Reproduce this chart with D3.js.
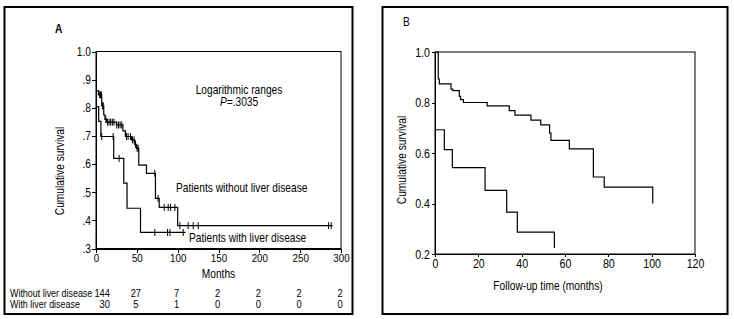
<!DOCTYPE html>
<html>
<head>
<meta charset="utf-8">
<script src="https://cdn.jsdelivr.net/npm/d3@7"></script>
<style>
  body { margin: 0; background: #fff; }
  svg text { font-family: "Liberation Sans", Arial, sans-serif; fill: #000; }
  .axis path, .axis line { stroke: #000; shape-rendering: crispEdges; }
  .curve { fill: none; stroke: #000; stroke-width: 1.2; }
  .censor { stroke: #000; stroke-width: 1; }
</style>
</head>
<body>
<div id="chart"></div>
<script>
// ---- panel A : months vs cumulative survival ----
const aMonthTicks = [0, 50, 100, 150, 200, 250, 300];
const aSurvTicks = [0.3, 0.4, 0.5, 0.6, 0.7, 0.8, 0.9, 1.0];
const aSurvLabels = [".3", ".4", ".5", ".6", ".7", ".8", ".9", "1.0"];

// patients without liver disease (step start times, survival after step)
const aWithoutTime = [0, 3, 7, 9.5, 11, 13, 25, 33, 36, 43.4, 47.5, 49.6, 52.4, 61.8, 72.8, 77.4, 100, 289.7];
const aWithoutSurv = [0.861, 0.846, 0.807, 0.775, 0.759, 0.749, 0.739, 0.718, 0.698, 0.686, 0.67, 0.656, 0.596, 0.567, 0.478, 0.446, 0.381, 0.381];
const aWithoutCensor = [4.5, 5.5, 6.6, 8.2, 8.8, 12, 14, 16, 18, 20, 22, 25.5, 27.5, 29.5, 31.5, 37.3, 39.3, 42.2,
                        44.7, 46.7, 48.3, 50.3, 51.6, 72, 76, 83.5, 88.4, 91.3, 96.6, 102.7, 112.9, 119, 125.2, 284.8, 288];

// patients with liver disease
const aWithTime = [0, 3.3, 6, 21.7, 34, 38, 54.5, 109.7];
const aWithSurv = [0.804, 0.752, 0.698, 0.62, 0.532, 0.443, 0.357, 0.357];
const aWithCensor = [7, 21, 28.3, 72, 87.6, 90.5, 106.8];

// numbers at risk
const riskRows = ["Without liver disease", "With liver disease"];
const riskWithout = [144, 27, 7, 2, 2, 2, 2];
const riskWith = [30, 5, 1, 0, 0, 0, 0];

// ---- panel B : follow-up time vs cumulative survival ----
const bMonthTicks = [0, 20, 40, 60, 80, 100, 120];
const bSurvTicks = [0.2, 0.4, 0.6, 0.8, 1.0];

const bUpperTime = [0, 1.5, 2, 7.4, 8.2, 11.2, 11.8, 13.1, 24.1, 34.3, 36.9, 44.3, 48.8, 52.9, 53.5, 62, 73.1, 78.1, 100.5];
const bUpperSurv = [1.0, 0.893, 0.874, 0.853, 0.847, 0.824, 0.811, 0.80, 0.787, 0.768, 0.75, 0.73, 0.711, 0.679, 0.65, 0.616, 0.505, 0.465, 0.40];

const bLowerTime = [0, 4.3, 8.0, 23.1, 33.1, 38.0, 55.1];
const bLowerSurv = [0.692, 0.613, 0.542, 0.452, 0.366, 0.287, 0.224];

const W = 734, H = 319;
const NARROW = 0.85;   // squeeze glyphs to mimic a narrow face

const svg = d3.select("#chart").append("svg")
    .attr("width", W)
    .attr("height", H);

// outer frames
svg.append("rect").attr("x", 4.5).attr("y", 7).attr("width", 348).attr("height", 307)
    .attr("fill", "none").attr("stroke", "#000").attr("stroke-width", 2);
svg.append("rect").attr("x", 382.5).attr("y", 7).attr("width", 345).attr("height", 307)
    .attr("fill", "none").attr("stroke", "#000").attr("stroke-width", 2);

function label(g, str, x, y, size, anchor = "start", rotate = 0) {
    return g.append("text")
        .attr("transform", `translate(${x}, ${y}) rotate(${rotate}) scale(${NARROW}, 1)`)
        .attr("text-anchor", anchor)
        .style("font-size", size + "px")
        .text(str);
}

function stepValue(times, surv, t) {
    let v = surv[0];
    for (let i = 0; i < times.length; i++) {
        if (times[i] <= t) v = surv[i];
    }
    return v;
}

function drawCurve(g, x, y, times, surv) {
    let line = d3.line()
        .x(d => x(d[0]))
        .y(d => y(d[1]))
        .curve(d3.curveStepAfter);
    g.append("path")
        .attr("class", "curve")
        .attr("d", line(d3.zip(times, surv)));
}

function drawCensors(g, x, y, times, surv, marks) {
    g.selectAll(null)
        .data(marks)
        .enter()
        .append("line")
        .attr("class", "censor")
        .attr("x1", d => x(d)).attr("x2", d => x(d))
        .attr("y1", d => y(stepValue(times, surv, d)) - 3.5)
        .attr("y2", d => y(stepValue(times, surv, d)) + 3.5);
}

function squeezeTicks(axisG, size) {
    axisG.selectAll("text")
        .style("font-size", size + "px")
        .attr("transform", `scale(${NARROW}, 1)`);
}

// ================= panel A =================
let ax = d3.scaleLinear().domain([0, 300]).range([96, 341]);
let ay = d3.scaleLinear().domain([0.3, 1.0]).range([248.5, 51.5]);
let gA = svg.append("g");

label(gA, "A", 55, 33, 12).style("font-weight", "bold");

gA.append("rect")
    .attr("x", ax(0)).attr("y", ay(1))
    .attr("width", ax(300) - ax(0)).attr("height", ay(0.3) - ay(1))
    .attr("fill", "none").attr("stroke", "#000");

let axA = gA.append("g").attr("class", "axis")
    .attr("transform", `translate(0, ${ay(0.3)})`)
    .call(d3.axisBottom(ax).tickValues(aMonthTicks).tickSize(4).tickSizeOuter(0).tickPadding(1));
squeezeTicks(axA, 11.5);

let ayA = gA.append("g").attr("class", "axis")
    .attr("transform", `translate(${ax(0)}, 0)`)
    .call(d3.axisLeft(ay).tickValues(aSurvTicks).tickSize(4).tickSizeOuter(0).tickPadding(2)
        .tickFormat((d, i) => aSurvLabels[i]));
squeezeTicks(ayA, 12);

label(gA, "Months", (ax(0) + ax(300)) / 2, 278, 12, "middle");
label(gA, "Cumulative survival", 64, 171, 12, "middle", -90);

drawCurve(gA, ax, ay, aWithoutTime, aWithoutSurv);
drawCurve(gA, ax, ay, aWithTime, aWithSurv);
drawCensors(gA, ax, ay, aWithoutTime, aWithoutSurv, aWithoutCensor);
drawCensors(gA, ax, ay, aWithTime, aWithSurv, aWithCensor);

label(gA, "Logarithmic ranges", 239, 94, 12, "middle");
let pText = label(gA, "", 239, 106, 12, "middle");
pText.append("tspan").text("P").style("font-style", "italic");
pText.append("tspan").text("=.3035");

label(gA, "Patients without liver disease", 176, 192, 12);
label(gA, "Patients with liver disease", 189, 242, 12);

// numbers at risk table
let riskY = [297, 308];
[riskWithout, riskWith].forEach((row, r) => {
    label(gA, riskRows[r], 10, riskY[r], 10.5);
    row.forEach((v, i) => {
        label(gA, v, i === 0 ? ax(aMonthTicks[i]) + 14 : ax(aMonthTicks[i]) - 1, riskY[r], 11,
              i === 0 ? "end" : "middle");
    });
});

// ================= panel B =================
let bx = d3.scaleLinear().domain([0, 120]).range([435, 695]);
let by = d3.scaleLinear().domain([0.2, 1.0]).range([254, 52]);
let gB = svg.append("g");

label(gB, "B", 403, 26, 12);

gB.append("rect")
    .attr("x", bx(0)).attr("y", by(1))
    .attr("width", bx(120) - bx(0)).attr("height", by(0.2) - by(1))
    .attr("fill", "none").attr("stroke", "#000");

let axB = gB.append("g").attr("class", "axis")
    .attr("transform", `translate(0, ${by(0.2)})`)
    .call(d3.axisBottom(bx).tickValues(bMonthTicks).tickSize(3).tickSizeOuter(0).tickPadding(2));
squeezeTicks(axB, 12.5);

let ayB = gB.append("g").attr("class", "axis")
    .attr("transform", `translate(${bx(0)}, 0)`)
    .call(d3.axisLeft(by).tickValues(bSurvTicks).tickSize(3).tickSizeOuter(0).tickPadding(3)
        .tickFormat(d3.format(".1f")));
squeezeTicks(ayB, 12.5);

label(gB, "Follow-up time (months)", 548, 290, 12, "middle");
label(gB, "Cumulative survival", 406, 160, 12, "middle", -90);

drawCurve(gB, bx, by, bUpperTime, bUpperSurv);
drawCurve(gB, bx, by, bLowerTime, bLowerSurv);
</script>
</body>
</html>
